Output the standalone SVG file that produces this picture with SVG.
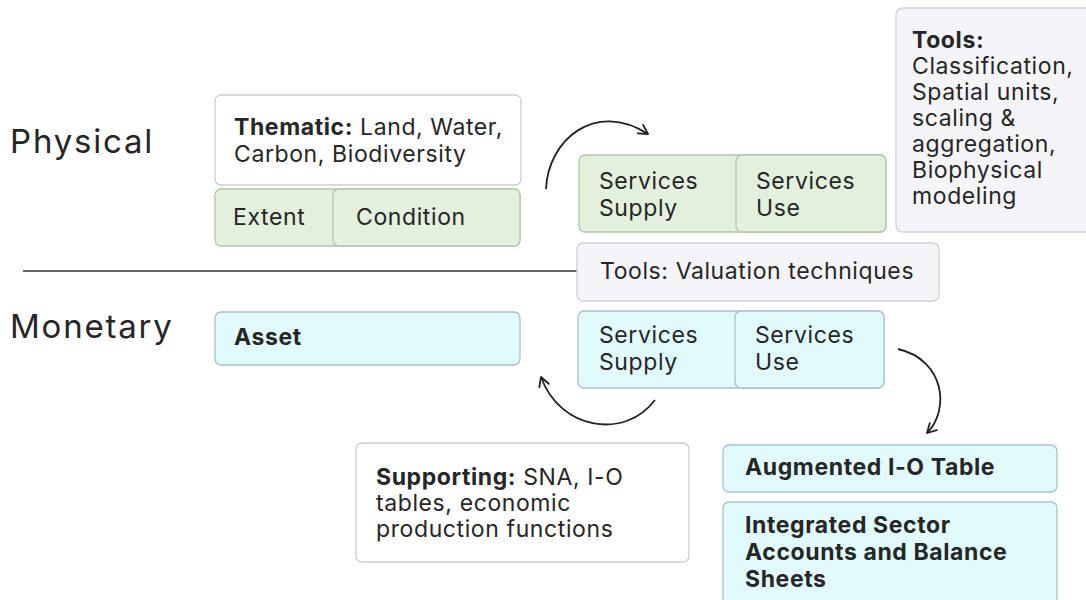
<svg xmlns="http://www.w3.org/2000/svg" width="1086" height="600" viewBox="0 0 1086 600">
<defs>
<marker id="arr" markerWidth="14" markerHeight="14" refX="10" refY="6" orient="auto" markerUnits="userSpaceOnUse">
<path d="M1,1 L10,6 L1,11" fill="none" stroke="#222" stroke-width="1.8" stroke-linecap="round" stroke-linejoin="round"/>
</marker>
</defs>
<style>
text{font-family:Inter,"Liberation Sans",sans-serif;fill:#262626;font-size:23px;letter-spacing:0.6px}
.b{font-weight:700}
.big{font-size:33px;letter-spacing:1.8px}
.white{fill:#ffffff;stroke:#cdcdcd;stroke-width:1.3}
.green{fill:#e3f0dd;stroke:#b3c6ab;stroke-width:1.3}
.cyan{fill:#e1fbfd;stroke:#a9c3c6;stroke-width:1.3}
.gray{fill:#f5f5f9;stroke:#cfcfd6;stroke-width:1.3}
.conn{fill:none;stroke:#222;stroke-width:1.8}
</style>
<rect width="1086" height="600" fill="#ffffff"/>
<g id="labels">
<text class="big" x="10" y="153">Physical</text>
<text class="big" x="10" y="338">Monetary</text>
</g>
<g id="connectors">
<line x1="23" y1="271" x2="577" y2="271" stroke="#333" stroke-width="1.5"/>
<path class="conn" d="M546,189 C548,140 595,100 648,134" marker-end="url(#arr)"/>
<path class="conn" d="M655,400 C625,440 560,430 541,377" marker-end="url(#arr)"/>
<path class="conn" d="M898,349 C945,360 950,410 927,433" marker-end="url(#arr)"/>
</g>
<g id="thematic">
<rect class="white" x="215" y="95" width="306" height="90" rx="6"/>
<text x="234" y="135"><tspan class="b">Thematic:</tspan> Land, Water,</text>
<text x="234" y="162">Carbon, Biodiversity</text>
</g>
<g id="extent">
<rect class="green" x="215" y="189" width="305" height="57" rx="6"/>
<text x="233" y="225">Extent</text>
</g>
<g id="condition">
<rect class="green" x="333" y="189" width="187" height="57" rx="6"/>
<text x="356" y="225">Condition</text>
</g>
<g id="phys-supply">
<rect class="green" x="579" y="155" width="307" height="77" rx="6"/>
<text x="599" y="189">Services</text>
<text x="599" y="216">Supply</text>
</g>
<g id="phys-use">
<rect class="green" x="736" y="155" width="150" height="77" rx="6"/>
<text x="756" y="189">Services</text>
<text x="756" y="216">Use</text>
</g>
<g id="tools-phys">
<rect class="gray" x="896" y="8" width="200" height="224" rx="7"/>
<text class="b" x="912" y="48">Tools:</text>
<text x="912" y="74">Classification,</text>
<text x="912" y="100">Spatial units,</text>
<text x="912" y="126">scaling &amp;</text>
<text x="912" y="152">aggregation,</text>
<text x="912" y="178">Biophysical</text>
<text x="912" y="204">modeling</text>
</g>
<g id="tools-valuation">
<rect class="gray" x="577" y="243" width="362" height="58" rx="6"/>
<text x="600" y="279">Tools: Valuation techniques</text>
</g>
<g id="asset">
<rect class="cyan" x="215" y="312" width="305" height="53" rx="6"/>
<text class="b" x="234" y="345">Asset</text>
</g>
<g id="mon-supply">
<rect class="cyan" x="578" y="311" width="306" height="77" rx="6"/>
<text x="599" y="343">Services</text>
<text x="599" y="370">Supply</text>
</g>
<g id="mon-use">
<rect class="cyan" x="735" y="311" width="149" height="77" rx="6"/>
<text x="755" y="343">Services</text>
<text x="755" y="370">Use</text>
</g>
<g id="supporting">
<rect class="white" x="356" y="443" width="333" height="119" rx="6"/>
<text x="376" y="485"><tspan class="b">Supporting:</tspan> SNA, I-O</text>
<text x="376" y="511">tables, economic</text>
<text x="376" y="537">production functions</text>
</g>
<g id="augmented">
<rect class="cyan" x="723" y="445" width="334" height="47" rx="6"/>
<text class="b" x="745" y="475">Augmented I-O Table</text>
</g>
<g id="integrated">
<rect class="cyan" x="723" y="502" width="334" height="110" rx="6"/>
<text class="b" x="745" y="533">Integrated Sector</text>
<text class="b" x="745" y="560">Accounts and Balance</text>
<text class="b" x="745" y="587">Sheets</text>
</g>
</svg>
